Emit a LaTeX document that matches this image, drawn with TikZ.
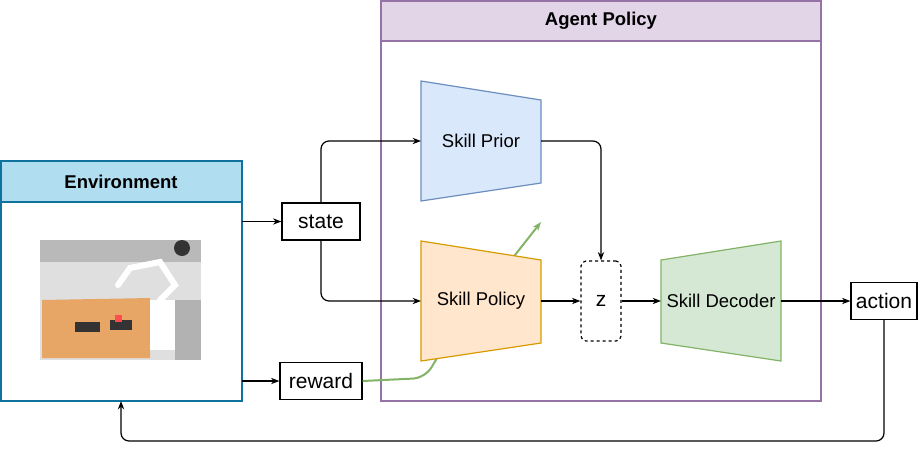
\documentclass[tikz,border=0pt]{standalone}
\usepackage{fontspec}
\setmainfont{Liberation Sans}
\usetikzlibrary{arrows.meta}
\definecolor{envfill}{HTML}{B1DDF0}
\definecolor{envline}{HTML}{10739E}
\definecolor{agfill}{HTML}{E1D5E7}
\definecolor{agline}{HTML}{9673A6}
\definecolor{prfill}{HTML}{DAE8FC}
\definecolor{prline}{HTML}{6C8EBF}
\definecolor{spfill}{HTML}{FFE6CC}
\definecolor{spline}{HTML}{D79B00}
\definecolor{dcfill}{HTML}{D5E8D4}
\definecolor{dcline}{HTML}{82B366}
\tikzset{
    >=Stealth,
    conn/.style={->,line width=1.2pt,rounded corners=8pt},
    io/.style={draw,line width=1.2pt,minimum width=78pt,minimum height=37pt,font=\fontsize{21}{24}\selectfont},
    label/.style={font=\fontsize{18.5}{22}\selectfont},
    head/.style={font=\fontsize{18.5}{22}\selectfont\bfseries},
}
\begin{document}
\begin{tikzpicture}[x=1pt,y=-1pt]
    \useasboundingbox (0,0) rectangle (923,451);
    % agent policy frame
    \draw[agline,fill=agfill,line width=1.5pt] (381,1) rectangle (821,41);
    \draw[agline,line width=1.5pt] (381,41) rectangle (821,401);
    \node[head] (aghead) at (601,21) {Agent Policy};
    % environment frame
    \draw[envline,fill=envfill,line width=1.8pt] (1,161) rectangle (242,202);
    \draw[envline,line width=1.8pt] (1,202) rectangle (242,401);
    \node[head] (envhead) at (121,182) {Environment};
    \coordinate (envR1) at (242,221.5);
    \coordinate (envR2) at (242,381);
    \coordinate (envB) at (121,401);
    % robot scene
    \fill[gray!25] (40,240) rectangle (201,360);
    \fill[gray!55] (40,240) rectangle (201,262);
    \fill[orange!45!brown!70] (42,300) -- (150,298) -- (150,358) -- (42,358) -- cycle;
    \fill[black!80] (75,322) rectangle (100,332);
    \fill[black!80] (110,320) rectangle (132,330);
    \fill[red!70] (115,315) rectangle (122,322);
    \fill[white] (150,300) rectangle (175,350);
    \draw[white,line width=6pt,line cap=round] (160,300) -- (175,285) -- (160,262) -- (130,268) -- (118,285);
    \fill[black!80] (182,248) circle (8);
    \fill[gray!60] (175,300) rectangle (201,360);
    % io boxes
    \node[io] (state) at (321,221.5) {state};
    \node[io,minimum width=82pt] (reward) at (321,381) {reward};
    \node[io,minimum width=66pt] (action) at (884,301) {action};
    % reward feedback into policy
    \coordinate (gradtip) at (541,222);
    \draw[dcline,line width=2pt,-{Stealth[length=9pt]},rounded corners=12pt]
        (reward.east) -- (425,378) -- (448,340) -- (gradtip);
    % skill prior
    \draw[prline,fill=prfill,line width=1.2pt] (421,81) -- (541,100) -- (541,183) -- (421,201) -- cycle;
    \node[label] (prior) at (481,141) {Skill Prior};
    \coordinate (priorW) at (421,141);
    \coordinate (priorE) at (541,141);
    % skill policy
    \draw[spline,fill=spfill,line width=1.2pt] (421,241) -- (541,260) -- (541,343) -- (421,361) -- cycle;
    \node[label] (policy) at (481,301) {Skill Policy};
    \coordinate (policyW) at (421,301);
    \coordinate (policyE) at (541,301);
    % latent
    \node[draw,dashed,line width=1.2pt,rounded corners=5pt,minimum width=40pt,minimum height=80pt,font=\fontsize{21}{24}\selectfont] (z) at (601,301) {z};
    % skill decoder
    \draw[dcline,fill=dcfill,line width=1.2pt] (661,260) -- (781,241) -- (781,361) -- (661,343) -- cycle;
    \node[label] (decoder) at (721,301) {Skill Decoder};
    \coordinate (decW) at (661,301);
    \coordinate (decE) at (781,301);
    % connectors
    \draw[conn] (envR1) -- (state.west);
    \draw[conn] (envR2) -- (reward.west);
    \draw[conn] (state.north) |- (priorW);
    \draw[conn] (state.south) |- (policyW);
    \draw[conn] (priorE) -| (z.north);
    \draw[conn] (policyE) -- (z.west);
    \draw[conn] (z.east) -- (decW);
    \draw[conn] (decE) -- (action.west);
    \draw[conn] (action.south) -- (884,441) -- (121,441) -- (envB);
\end{tikzpicture}
\end{document}
